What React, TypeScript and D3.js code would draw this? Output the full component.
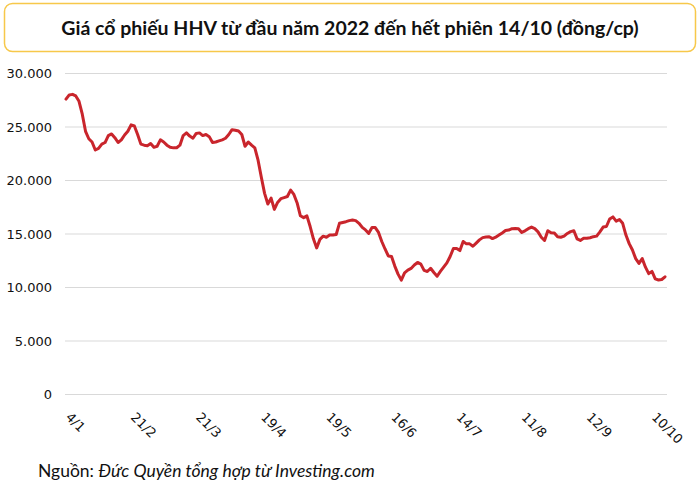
import React from 'react';
import * as d3 from 'd3';

// HHV closing price, one value per trading session (đồng/cp)
const prices: number[] = [
  27600, 28000, 28050, 27900, 27400, 26200, 24600, 23900, 23600, 22850,
  23000, 23400, 23550, 24200, 24350, 24000, 23550, 23800, 24250, 24600,
  25200, 25100, 24300, 23400, 23300, 23250, 23450, 23100, 23200, 23800,
  23600, 23300, 23100, 23050, 23060, 23300, 24200, 24450, 24150, 23950,
  24400, 24450, 24200, 24300, 24100, 23550, 23600, 23700, 23800, 23950,
  24300, 24750, 24700, 24620, 24300, 23200, 23600, 23300, 23050, 21900,
  20300, 18800, 17800, 18350, 17300, 17950, 18300, 18400, 18500, 19100,
  18700, 17900, 16700, 16530, 16690, 15700, 14550, 13700, 14500, 14800,
  14700, 14900, 14900, 14950, 16000, 16080, 16150, 16250, 16300, 16250,
  16000, 15620, 15380, 15060, 15600, 15600, 15150, 14300, 13600, 12950,
  12900, 12000, 11250, 10690, 11375, 11625, 11780, 12100, 12340, 12190,
  11600, 11500, 11800, 11400, 11050, 11500, 11900, 12300, 12900, 13650,
  13650, 13450, 14300, 14080, 14080, 13850, 14150, 14450, 14660, 14720,
  14750, 14570, 14700, 14900, 15100, 15320, 15370, 15500, 15520, 15500,
  15150, 15300, 15500, 15650, 15500, 15200, 14700, 14400, 15300, 15120,
  15100, 14750, 14700, 14800, 15050, 15220, 15300, 14550, 14400, 14600,
  14600, 14650, 14750, 14800, 15200, 15650, 15700, 16400, 16600, 16200,
  16350, 16000, 14900, 14100, 13500, 12700, 12250, 12700, 11900, 11300,
  11500, 10800, 10700, 10750, 11000,
];

// category labels shown every 20 sessions
const dateLabels: string[] = ['4/1', '21/2', '21/3', '19/4', '19/5', '16/6', '14/7', '11/8', '12/9', '10/10'];
const labelStep = 20;

const yTicks: number[] = [0, 5000, 10000, 15000, 20000, 25000, 30000];

const title = 'Giá cổ phiếu HHV từ đầu năm 2022 đến hết phiên 14/10 (đồng/cp)';

const W = 700;
const H = 489;
const margin = { top: 73.5, right: 33, bottom: 94.5, left: 65 };

const viFormat = d3.formatLocale({ decimal: ',', thousands: '.', grouping: [3], currency: ['', ''] }).format(',');

export default function App() {
  const x = d3.scaleLinear()
    .domain([0, prices.length - 1])
    .range([66, 665]);

  const y = d3.scaleLinear()
    .domain([0, 30000])
    .range([H - margin.bottom, margin.top]);

  const line = d3.line<number>()
    .x((_, i) => x(i))
    .y(d => y(d))
    .curve(d3.curveLinear);

  return (
    <svg width={W} height={H} style={{ position: 'absolute', left: 0, top: 0, background: '#fff' }}>
      <rect x={4.5} y={3.5} width={691} height={48} rx={8} fill="#fff" stroke="#f7c84a" strokeWidth={1.5} />
      <text x={350} y={35} textAnchor="middle" fontFamily="Lato" fontWeight={700} fontSize={19.5} fill="#111">
        {title}
      </text>

      {/* grid + y labels */}
      {yTicks.map(t => (
        <g key={t}>
          <line x1={margin.left} x2={W - margin.right} y1={y(t)} y2={y(t)} stroke="#d9d9d9" strokeWidth={1} />
          <text x={52} y={y(t)} dy="0.36em" textAnchor="end" fontFamily="DejaVu Sans" fontSize={13} fill="#111">
            {viFormat(t)}
          </text>
        </g>
      ))}

      <path d={line(prices) || ''} fill="none" stroke="#c9252c" strokeWidth={3} strokeLinejoin="round" strokeLinecap="round" />

      {/* x labels */}
      {dateLabels.map((lbl, k) => {
        const px = x(k * labelStep) - 1;
        return (
          <text key={lbl} transform={`translate(${px},418) rotate(45)`} fontFamily="DejaVu Sans" fontSize={13} fill="#111">
            {lbl}
          </text>
        );
      })}

      <text x={38} y={477} fontFamily="Lato" fontSize={17.5} fill="#111">
        Nguồn: <tspan fontStyle="italic">Đức Quyền tổng hợp từ Investing.com</tspan>
      </text>
    </svg>
  );
}
